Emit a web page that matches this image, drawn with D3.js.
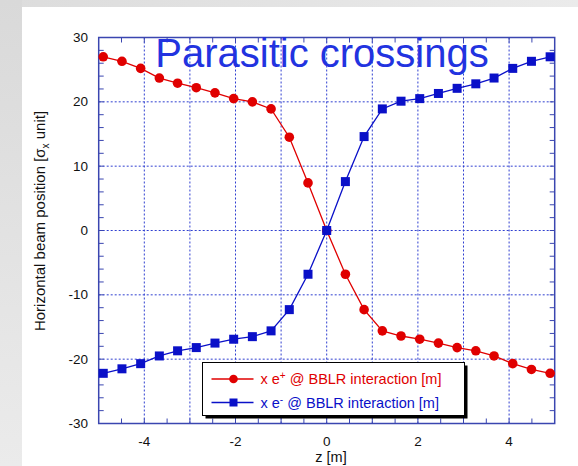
<!DOCTYPE html>
<html>
<head>
<meta charset="utf-8">
<script src="https://cdn.jsdelivr.net/npm/d3@7"></script>
<style>
  body { margin: 0; padding: 0; }
  svg { display: block; font-family: "Liberation Sans", Arial, sans-serif; }
</style>
</head>
<body>
<svg id="chart" width="578" height="466"></svg>
<script>
// z positions of the parasitic crossings [m]
const zPos = [-4.9, -4.49, -4.08, -3.67, -3.27, -2.86, -2.45, -2.04, -1.63, -1.22, -0.82, -0.41, 0,
  0.41, 0.82, 1.22, 1.63, 2.04, 2.45, 2.86, 3.27, 3.67, 4.08, 4.49, 4.9];
// x e+ and x e- [sigma_x units]
const ePlus = [27.0, 26.3, 25.2, 23.7, 22.9, 22.2, 21.4, 20.5, 20.0, 18.9, 14.5, 7.4, 0,
  -6.8, -12.3, -15.6, -16.4, -16.9, -17.5, -18.2, -18.7, -19.5, -20.7, -21.6, -22.2];
const eMinus = [-22.2, -21.5, -20.7, -19.5, -18.7, -18.2, -17.5, -16.9, -16.5, -15.6, -12.3, -6.8, 0,
  7.6, 14.6, 18.9, 20.1, 20.5, 21.3, 22.1, 22.8, 23.7, 25.2, 26.3, 27.0];
const xTicks = [-4, -2, 0, 2, 4];
const yTicks = [-30, -20, -10, 0, 10, 20, 30];

const RED = "#e00000";
const BLUE = "#0a10c8";
const FRAME = "#3a46b0";

const svg = d3.select("#chart");

// grey slide background
const defs = svg.append("defs");
const gLeft = defs.append("linearGradient").attr("id", "gl").attr("x1", 0).attr("y1", 0).attr("x2", 0).attr("y2", 1);
gLeft.append("stop").attr("offset", "0%").attr("stop-color", "#d9d9d9");
gLeft.append("stop").attr("offset", "100%").attr("stop-color", "#ebebeb");
const gTop = defs.append("linearGradient").attr("id", "gt").attr("x1", 0).attr("y1", 0).attr("x2", 1).attr("y2", 0);
gTop.append("stop").attr("offset", "0%").attr("stop-color", "#dcdcdc");
gTop.append("stop").attr("offset", "100%").attr("stop-color", "#ebebeb");

svg.append("rect").attr("width", 578).attr("height", 466).attr("fill", "#fff");
svg.append("rect").attr("x", 0).attr("y", 0).attr("width", 578).attr("height", 7).attr("fill", "url(#gt)");
svg.append("rect").attr("x", 0).attr("y", 0).attr("width", 22).attr("height", 466).attr("fill", "url(#gl)");

const x = d3.scaleLinear().domain([-5, 5]).range([98.7, 554.7]);
const y = d3.scaleLinear().domain([-30, 30]).range([423.5, 37.5]);

// grid
const grid = svg.append("g")
  .attr("stroke", "#2f3fd0")
  .attr("stroke-width", 1)
  .attr("stroke-dasharray", "2,2");
grid.selectAll(".gx")
  .data(d3.range(-4, 5))
  .join("line")
  .attr("x1", (d) => x(d)).attr("x2", (d) => x(d))
  .attr("y1", y(30)).attr("y2", y(-30));
grid.selectAll(".gy")
  .data([-20, -10, 0, 10, 20])
  .join("line")
  .attr("x1", x(-5)).attr("x2", x(5))
  .attr("y1", (d) => y(d)).attr("y2", (d) => y(d));

// inward ticks on all four sides
const tickLen = 5;
const ticks = svg.append("g").attr("stroke", FRAME).attr("stroke-width", 1);
d3.range(-4.5, 5, 0.5).forEach((t) => {
  ticks.append("line").attr("x1", x(t)).attr("x2", x(t)).attr("y1", y(-30)).attr("y2", y(-30) - tickLen);
  ticks.append("line").attr("x1", x(t)).attr("x2", x(t)).attr("y1", y(30)).attr("y2", y(30) + tickLen);
});
d3.range(-28, 30, 2).forEach((t) => {
  ticks.append("line").attr("x1", x(-5)).attr("x2", x(-5) + tickLen).attr("y1", y(t)).attr("y2", y(t));
  ticks.append("line").attr("x1", x(5)).attr("x2", x(5) - tickLen).attr("y1", y(t)).attr("y2", y(t));
});

// frame
svg.append("rect")
  .attr("x", x(-5)).attr("y", y(30))
  .attr("width", x(5) - x(-5)).attr("height", y(-30) - y(30))
  .attr("fill", "none").attr("stroke", FRAME).attr("stroke-width", 1.5);

// tick labels
svg.append("g").selectAll("text")
  .data(xTicks)
  .join("text")
  .attr("x", (d) => x(d))
  .attr("y", 446)
  .attr("text-anchor", "middle")
  .attr("font-size", 13.5)
  .attr("fill", "#111")
  .text((d) => d);
svg.append("g").selectAll("text")
  .data(yTicks)
  .join("text")
  .attr("x", 88)
  .attr("y", (d) => y(d) + 4.5)
  .attr("text-anchor", "end")
  .attr("font-size", 13.5)
  .attr("fill", "#111")
  .text((d) => d);

// axis titles
svg.append("text")
  .attr("x", 331).attr("y", 462)
  .attr("text-anchor", "middle")
  .attr("font-size", 14.5)
  .attr("fill", "#111")
  .text("z [m]");
const yl = svg.append("text")
  .attr("transform", "translate(45,221) rotate(-90)")
  .attr("text-anchor", "middle")
  .attr("font-size", 15)
  .attr("fill", "#111");
yl.append("tspan").text("Horizontal beam position [σ");
yl.append("tspan").attr("font-size", 10).attr("dy", 4).text("x");
yl.append("tspan").attr("dy", -4).text(" unit]");

// series
const line = d3.line().x((d) => x(d[0])).y((d) => y(d[1]));
const redPts = zPos.map((z, i) => [z, ePlus[i]]);
const bluePts = zPos.map((z, i) => [z, eMinus[i]]);

svg.append("path").datum(redPts).attr("d", line)
  .attr("fill", "none").attr("stroke", RED).attr("stroke-width", 1.3);
svg.append("path").datum(bluePts).attr("d", line)
  .attr("fill", "none").attr("stroke", BLUE).attr("stroke-width", 1.3);

svg.append("g").selectAll("circle")
  .data(redPts)
  .join("circle")
  .attr("cx", (d) => x(d[0]))
  .attr("cy", (d) => y(d[1]))
  .attr("r", 4.8)
  .attr("fill", RED);
svg.append("g").selectAll("rect")
  .data(bluePts)
  .join("rect")
  .attr("x", (d) => x(d[0]) - 4.5)
  .attr("y", (d) => y(d[1]) - 4.5)
  .attr("width", 9)
  .attr("height", 9)
  .attr("fill", BLUE);

// title
svg.append("text")
  .attr("x", 322).attr("y", 67)
  .attr("text-anchor", "middle")
  .attr("font-size", 40)
  .attr("fill", "#2233e0")
  .text("Parasitic crossings");

// legend
const lg = svg.append("g").attr("transform", "translate(202.5,362.5)");
lg.append("rect").attr("x", 3).attr("y", 3).attr("width", 262).attr("height", 53).attr("fill", "#000");
lg.append("rect").attr("width", 262).attr("height", 53).attr("fill", "#fff").attr("stroke", "#000").attr("stroke-width", 1);
const items = [
  { color: RED, sup: "+", shape: "circle", dy: 16.5 },
  { color: BLUE, sup: "-", shape: "square", dy: 40 },
];
items.forEach((it) => {
  lg.append("line").attr("x1", 9).attr("x2", 51).attr("y1", it.dy).attr("y2", it.dy)
    .attr("stroke", it.color).attr("stroke-width", 1.3);
  if (it.shape === "circle") {
    lg.append("circle").attr("cx", 31).attr("cy", it.dy).attr("r", 4.3).attr("fill", it.color);
  } else {
    lg.append("rect").attr("x", 27).attr("y", it.dy - 4).attr("width", 8).attr("height", 8).attr("fill", it.color);
  }
  const t = lg.append("text").attr("x", 58).attr("y", it.dy + 5)
    .attr("font-size", 14.5).attr("fill", it.color);
  t.append("tspan").text("x e");
  t.append("tspan").attr("font-size", 10).attr("dy", -5).text(it.sup);
  t.append("tspan").attr("dy", 5).text(" @ BBLR interaction [m]");
});
</script>
</body>
</html>
